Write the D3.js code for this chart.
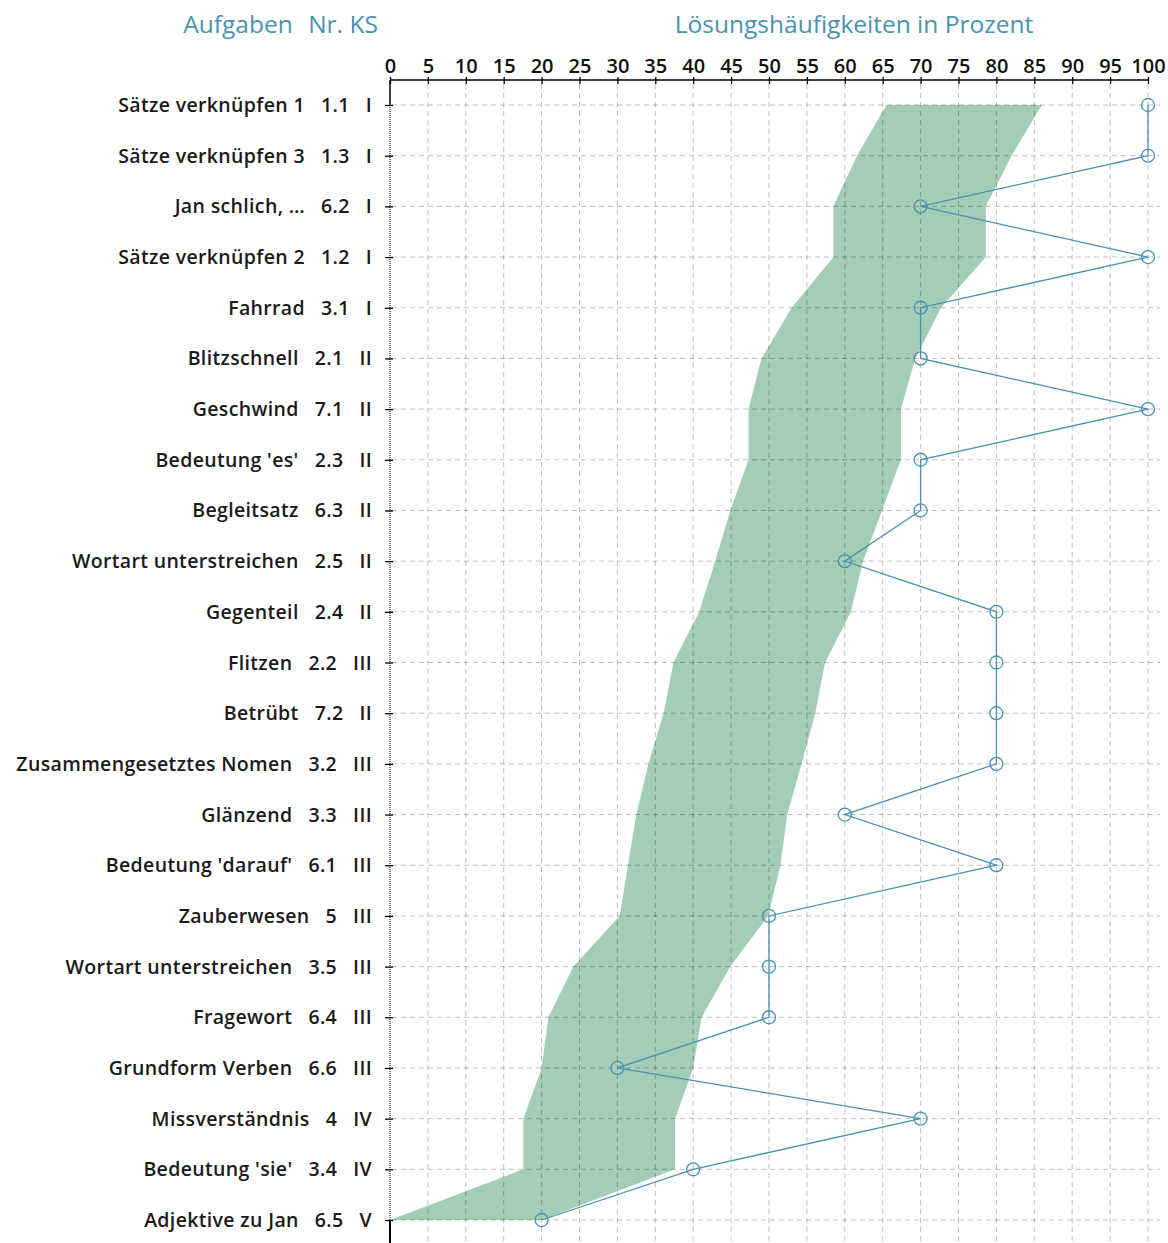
<!DOCTYPE html>
<html>
<head>
<meta charset="utf-8">
<script src="https://cdn.jsdelivr.net/npm/d3@7"></script>
<style>
  body { margin: 0; background: #fff; }
  svg text { font-family: "Open Sans", sans-serif; }
</style>
</head>
<body>
<svg class="chart"></svg>
<script>
// Aufgaben, Nr., KS
var tasks = ["Sätze verknüpfen 1", "Sätze verknüpfen 3", "Jan schlich, …", "Sätze verknüpfen 2",
    "Fahrrad", "Blitzschnell", "Geschwind", "Bedeutung 'es'", "Begleitsatz",
    "Wortart unterstreichen", "Gegenteil", "Flitzen", "Betrübt", "Zusammengesetztes Nomen",
    "Glänzend", "Bedeutung 'darauf'", "Zauberwesen", "Wortart unterstreichen", "Fragewort",
    "Grundform Verben", "Missverständnis", "Bedeutung 'sie'", "Adjektive zu Jan"];
var nr = ["1.1", "1.3", "6.2", "1.2", "3.1", "2.1", "7.1", "2.3", "6.3", "2.5", "2.4", "2.2",
    "7.2", "3.2", "3.3", "6.1", "5", "3.5", "6.4", "6.6", "4", "3.4", "6.5"];
var ks = ["I", "I", "I", "I", "I", "II", "II", "II", "II", "II", "II", "III", "II", "III",
    "III", "III", "III", "III", "III", "III", "IV", "IV", "V"];

// Lösungshäufigkeit der Klasse (Linie)
var classValues = [100, 100, 70, 100, 70, 70, 100, 70, 70, 60, 80, 80, 80, 80, 60, 80,
    50, 50, 50, 30, 70, 40, 20];

// Vergleichsband (grün): untere und obere Grenze
var bandLow = [65.5, 61.6, 58.5, 58.5, 53, 49, 47.3, 47.3, 44.9, 42.9, 40.8, 37.4, 36.1,
    34.1, 32.5, 31.4, 30.3, 24.2, 20.9, 20, 17.6, 17.6, 0];
var bandHigh = [86, 82, 78.6, 78.6, 72.7, 69.3, 67.4, 67.4, 64.9, 62.4, 60.8, 57.4, 56.1,
    54.3, 52.4, 51.5, 49.9, 44.9, 41.1, 40, 37.6, 37.6, 20];

var xTicks = d3.range(0, 101, 5);

var width = 1168, height = 1243;
var blue = "#4a92b0";

var svg = d3.select("svg.chart")
    .attr("width", width)
    .attr("height", height);

var x = d3.scaleLinear().domain([0, 100]).range([390, 1148]);
var y = d3.scalePoint().domain(d3.range(tasks.length)).range([105, 1220]);

// band
var area = d3.area()
    .x0(function(d, i) { return x(bandLow[i]); })
    .x1(function(d, i) { return x(bandHigh[i]); })
    .y(function(d, i) { return y(i); });

svg.append("path")
    .datum(tasks)
    .attr("d", area)
    .attr("fill", "#a3cdb6");

// grid
var grid = svg.append("g").attr("class", "grid");
grid.selectAll("line.v")
    .data(xTicks.slice(1))
    .enter().append("line")
    .attr("x1", function(d) { return x(d); })
    .attr("x2", function(d) { return x(d); })
    .attr("y1", 84)
    .attr("y2", height)
    .attr("stroke", "rgba(0,0,0,0.25)")
    .style("stroke-dasharray", "5, 4");
grid.selectAll("line.h")
    .data(d3.range(tasks.length))
    .enter().append("line")
    .attr("x1", 392)
    .attr("x2", 1160)
    .attr("y1", function(d) { return y(d); })
    .attr("y2", function(d) { return y(d); })
    .attr("stroke", "rgba(0,0,0,0.25)")
    .style("stroke-dasharray", "5, 4");

// x axis on top
var xAxis = svg.append("g")
    .attr("transform", "translate(0,80)")
    .call(d3.axisTop(x).tickValues(xTicks).tickSize(4).tickPadding(3));
xAxis.select(".domain").attr("stroke", "#000").attr("stroke-width", 1.5).attr("d", "M390,0H1148");
xAxis.selectAll(".tick line").attr("y1", 4).attr("y2", -3).attr("stroke-width", 1.3);
xAxis.selectAll(".tick text")
    .attr("font-size", 20)
    .attr("font-weight", 600)
    .attr("fill", "#111")
    .style("font-family", "'Open Sans', sans-serif");

// y axis
var yAxis = svg.append("g")
    .attr("transform", "translate(390,0)")
    .call(d3.axisLeft(y).tickSize(4).tickFormat(""));
yAxis.select(".domain").remove();
yAxis.selectAll(".tick line").attr("x1", -5).attr("x2", 3).attr("stroke-width", 1.3);
svg.append("line")
    .attr("x1", 390).attr("x2", 390).attr("y1", 80).attr("y2", 105)
    .attr("stroke", "#000").attr("stroke-width", 1.5);
svg.append("line")
    .attr("x1", 390).attr("x2", 390).attr("y1", 105).attr("y2", 1220)
    .attr("stroke", "#000").attr("stroke-width", 1)
    .style("stroke-dasharray", "1, 1");
svg.append("line")
    .attr("x1", 390).attr("x2", 390).attr("y1", 1220).attr("y2", height)
    .attr("stroke", "#000").attr("stroke-width", 2);

// row labels: name, Nr., KS
var labels = svg.append("g").selectAll("text")
    .data(tasks)
    .enter().append("text")
    .attr("x", 372)
    .attr("y", function(d, i) { return y(i) + 7; })
    .attr("text-anchor", "end")
    .attr("font-size", 19.5)
    .attr("font-weight", 600)
    .attr("letter-spacing", 0.35)
    .attr("fill", "#1a1a1a");
labels.append("tspan").text(function(d) { return d; });
labels.append("tspan").attr("dx", 16).text(function(d, i) { return nr[i]; });
labels.append("tspan").attr("dx", 16).text(function(d, i) { return ks[i]; });

// class line
var line = d3.line()
    .x(function(d) { return x(d); })
    .y(function(d, i) { return y(i); });

svg.append("path")
    .datum(classValues)
    .attr("d", line)
    .attr("fill", "none")
    .attr("stroke", blue)
    .attr("stroke-width", 1.3);

svg.append("g").selectAll("circle")
    .data(classValues)
    .enter().append("circle")
    .attr("cx", function(d) { return x(d); })
    .attr("cy", function(d, i) { return y(i); })
    .attr("r", 6.5)
    .attr("fill", "none")
    .attr("stroke", blue)
    .attr("stroke-width", 1.3);

// headers
var headers = [
    {text: "Aufgaben", x: 238},
    {text: "Nr. KS", x: 343},
    {text: "Lösungshäufigkeiten in Prozent", x: 854}
];
svg.append("g").selectAll("text")
    .data(headers)
    .enter().append("text")
    .attr("x", function(d) { return d.x; })
    .attr("y", 33)
    .attr("text-anchor", "middle")
    .attr("font-size", 24.5)
    .attr("fill", blue)
    .text(function(d) { return d.text; });
</script>
</body>
</html>
